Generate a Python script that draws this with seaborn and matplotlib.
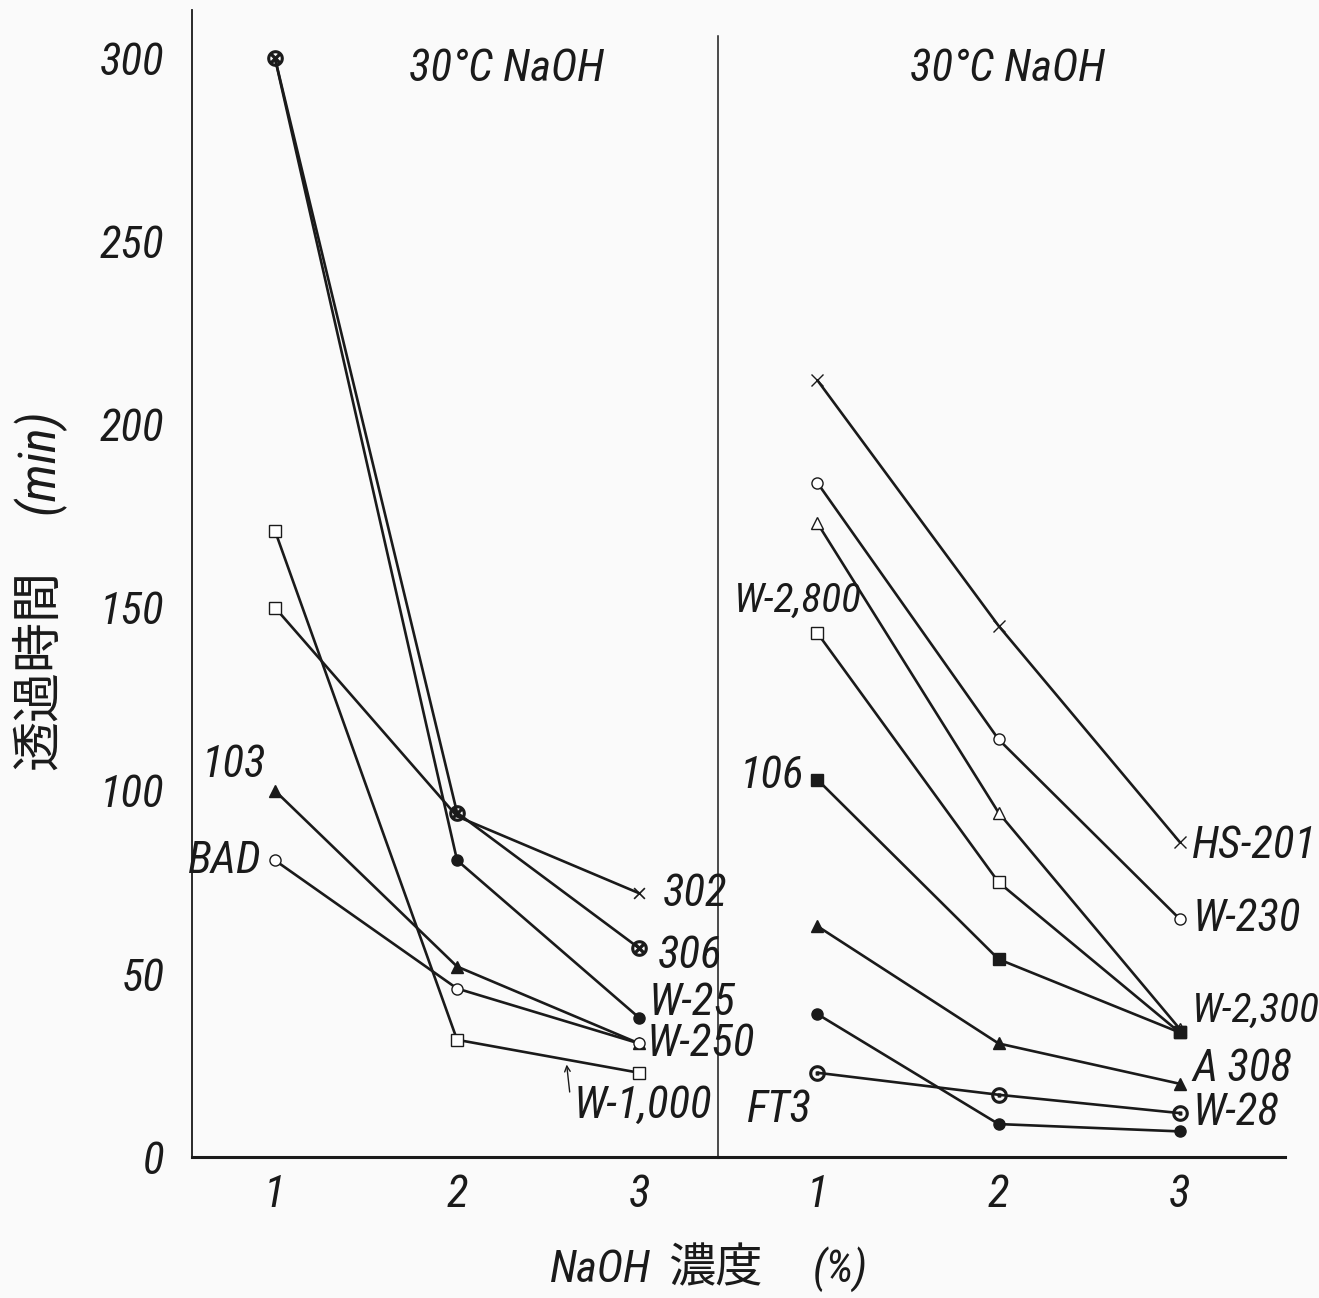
import numpy as np
import pandas as pd
import matplotlib as mpl
mpl.use("Agg")
import matplotlib.pyplot as plt
from matplotlib import font_manager as fm
import seaborn as sns

# NaOH concentration (%)
conc = [1, 2, 3]

# Left panel series (permeation time, min)
left_306 = [300, 94, 57]
left_302 = [150, 93, 72]
left_w25 = [300, 81, 38]
left_w1000 = [171, 32, 23]
left_103 = [100, 52, 31]
left_bad = [81, 46, 31]

# Right panel series
right_hs201 = [212, 145, 86]
right_w230 = [184, 114, 65]
right_w2300 = [173, 94, 35]
right_w2800 = [143, 75, 34]
right_106 = [103, 54, 34]
right_a308 = [63, 31, 20]
right_w28 = [39, 9, 7]
right_ft3 = [23, 17, 12]

yticks = [0, 50, 100, 150, 200, 250, 300]

sns.set_style("white")
plt.rcParams["font.family"] = ["Liberation Sans", "DejaVu Sans"]
CJK = ["Noto Sans CJK JP", "DejaVu Sans"]
INK = "#1a1a1a"
BG = "#fafafa"


def narrow_italic():
    # look for a condensed / narrow italic face, narrowest first
    prefs = ["notosans-extracondenseditalic", "liberationsansnarrow-italic",
             "robotocondensed-italic", "notosans-condenseditalic",
             "dejavusanscondensed-oblique", "notosans-semicondenseditalic"]
    files = [f.fname for f in fm.fontManager.ttflist]
    for p in prefs:
        for fn in files:
            if p in fn.lower().replace(" ", ""):
                return fn, p
    return None, None


NARROW_FILE, NARROW_KIND = narrow_italic()
SCALE = 1.0 if NARROW_KIND and "extra" in NARROW_KIND else 0.85


def ifont(size):
    if NARROW_FILE:
        return fm.FontProperties(fname=NARROW_FILE, size=size * SCALE)
    return fm.FontProperties(family=["Liberation Sans", "DejaVu Sans"],
                             style="italic", size=size * 0.75)


fig = plt.figure(figsize=(13.19, 12.98), dpi=100, facecolor=BG)
axL = fig.add_axes([0.1456, 0.1086, 0.544 - 0.1456, 0.992 - 0.1086], facecolor=BG)
axR = fig.add_axes([0.544, 0.1086, 0.974 - 0.544, 0.992 - 0.1086], facecolor="none", sharey=axL)

# (values, marker, filled, points with a marker)
left_style = [
    (left_w25, "o", True, [1, 2]),
    (left_306, r"$\otimes$", True, [0, 1, 2]),
    (left_302, "s", False, [0]),
    (left_w1000, "s", False, [0, 1, 2]),
    (left_103, "^", True, [0, 1, 2]),
    (left_bad, "o", False, [0, 1, 2]),
]
right_style = [
    (right_hs201, "x", True, [0, 1, 2]),
    (right_w230, "o", False, [0, 1, 2]),
    (right_w2300, "^", False, [0, 1, 2]),
    (right_w2800, "s", False, [0, 1, 2]),
    (right_106, "s", True, [0, 1, 2]),
    (right_a308, "^", True, [0, 1, 2]),
    (right_w28, "o", True, [0, 1, 2]),
    (right_ft3, r"$\odot$", True, [0, 1, 2]),
]


def draw(ax, styles):
    for vals, m, filled, every in styles:
        df = pd.DataFrame({"x": conc, "y": vals})
        ms = 11 if m.startswith("$") else 8
        sns.lineplot(data=df, x="x", y="y", ax=ax, color=INK, linewidth=1.9,
                     marker=m, markersize=ms, markevery=every,
                     markerfacecolor=INK if filled else "white",
                     markeredgecolor=INK, markeredgewidth=1.0)


draw(axL, left_style)
draw(axR, right_style)
# 302 ends with a cross
sns.scatterplot(x=conc[2:], y=left_302[2:], ax=axL, marker="x", color=INK,
                s=60, linewidth=1.2, legend=False)

axL.set_ylim(0, 313)
axL.set_xlim(0.545, 3.43)
axR.set_xlim(0.448, 3.58)

for ax in (axL, axR):
    ax.set_xticks(conc)
    ax.set_xticklabels([str(c) for c in conc], fontproperties=ifont(38), color=INK)
    ax.tick_params(axis="x", direction="in", length=10, width=1, pad=12, colors=INK)
    ax.set_xlabel("")
    ax.set_ylabel("")
    for s in ("top", "right"):
        ax.spines[s].set_visible(False)
    for s in ("left", "bottom"):
        ax.spines[s].set_color(INK)
    ax.spines["bottom"].set_linewidth(2.2)

axL.set_yticks(yticks)
axL.set_yticklabels([str(t) for t in yticks], fontproperties=ifont(38), color=INK)
axL.tick_params(axis="y", direction="in", length=12, width=1.2, pad=20, colors=INK)
axL.spines["left"].set_linewidth(1.3)
axR.tick_params(axis="y", left=False, labelleft=False)
axR.spines["left"].set_linewidth(1.1)
axR.spines["left"].set_bounds(0, 306)

lab = dict(fontproperties=ifont(38), color=INK, va="center")
lab_small = dict(fontproperties=ifont(35), color=INK, va="center")

# Left panel labels
axL.text(2.27, 297, "30°C NaOH", ha="center", **lab)
axL.text(3.13, 72, "302", ha="left", **lab)
axL.text(3.10, 55, "306", ha="left", **lab)
axL.text(3.05, 42, "W-25", ha="left", **lab)
axL.text(3.04, 31, "W-250", ha="left", **lab)
axL.text(2.64, 14, "W-1,000", ha="left", **lab)
axL.text(0.95, 107, "103", ha="right", **lab)
axL.text(0.93, 81, "BAD", ha="right", **lab)
axL.annotate("", xy=(2.6, 26), xytext=(2.62, 17),
             arrowprops=dict(arrowstyle="->", color=INK, lw=1.0))

# Right panel labels
axR.text(2.05, 297, "30°C NaOH", ha="center", **lab)
axR.text(3.07, 85, "HS-201", ha="left", **lab)
axR.text(3.07, 65, "W-230", ha="left", **lab)
axR.text(3.07, 40, "W-2,300", ha="left", **lab_small)
axR.text(3.07, 24, "A 308", ha="left", **lab)
axR.text(3.07, 12, "W-28", ha="left", **lab)
axR.text(0.54, 152, "W-2,800", ha="left", **lab_small)
axR.text(0.57, 104, "106", ha="left", **lab)
axR.text(0.61, 13, "FT3", ha="left", **lab)

# Axis titles
fig.text(0.030, 0.484, "透過時間", rotation=90, ha="center", va="center",
         family=CJK, size=36, color=INK)
fig.text(0.029, 0.645, "(min)", rotation=90, ha="center", va="center",
         fontproperties=ifont(44), color=INK)
fig.text(0.455, 0.022, "NaOH", ha="center", va="center",
         fontproperties=ifont(38), color=INK)
fig.text(0.542, 0.022, "濃度", ha="center", va="center",
         family=CJK, size=34, color=INK)
fig.text(0.637, 0.022, "(%)", ha="center", va="center",
         fontproperties=ifont(38), color=INK)

fig.savefig("out.png", dpi=100, facecolor=BG)
